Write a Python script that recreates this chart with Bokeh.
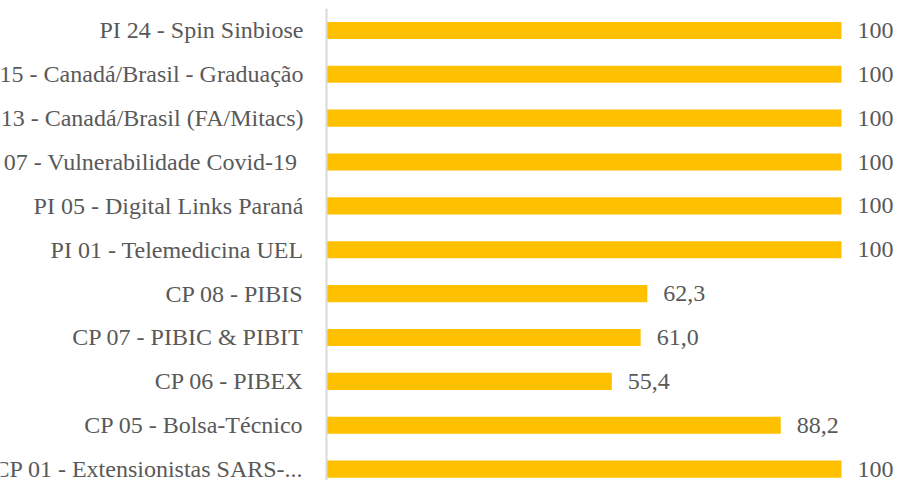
from bokeh.plotting import figure
from bokeh.models import Range1d, ColumnDataSource, Span
from bokeh.core.properties import value
from bokeh.embed import file_html
from bokeh.resources import INLINE

categories = [
    "PI 24 - Spin Sinbiose",
    "PI 15 - Canadá/Brasil - Graduação",
    "PI 13 - Canadá/Brasil (FA/Mitacs)",
    "PI 07 - Vulnerabilidade Covid-19\u00a0",
    "PI 05 - Digital Links Paraná",
    "PI 01 - Telemedicina UEL",
    "CP 08 - PIBIS",
    "CP 07 - PIBIC & PIBIT",
    "CP 06 - PIBEX",
    "CP 05 - Bolsa-Técnico",
    "CP 01 - Extensionistas SARS-...",
]
values = [100, 100, 100, 100, 100, 100, 62.3, 61.0, 55.4, 88.2, 100]
value_labels = ["100", "100", "100", "100", "100", "100", "62,3", "61,0", "55,4", "88,2", "100"]

FONT = "Liberation Serif"
TEXT_COLOR = "#595959"

src = ColumnDataSource(dict(
    y=list(range(len(categories))),
    v=values,
    cat=categories,
    vl=value_labels,
    zero=[0] * len(categories),
))

p = figure(width=899, height=480, output_backend="svg", toolbar_location=None,
           x_range=Range1d(-63.3, 111.26), y_range=Range1d(10.26, -0.5),
           x_axis_location=None, y_axis_location=None,
           min_border_left=0, min_border_right=0,
           min_border_top=8, min_border_bottom=0)
p.outline_line_color = None
p.xgrid.visible = False
p.ygrid.visible = False

p.add_layout(Span(location=0, dimension="height", line_color="#d9d9d9", line_width=2))

p.hbar(y="y", left=0, right="v", height=0.39, source=src,
       fill_color="#FFC000", line_color=None)

p.text(x="v", y="y", text="vl", source=src, x_offset=16,
       text_align="left", text_baseline="middle",
       text_font=value(FONT), text_font_size="24px", text_color=TEXT_COLOR)

p.text(x="zero", y="y", text="cat", source=src, x_offset=-23,
       text_align="right", text_baseline="middle",
       text_font=value(FONT), text_font_size="24px", text_color=TEXT_COLOR)

open("out.html", "w").write(file_html(p, INLINE))
